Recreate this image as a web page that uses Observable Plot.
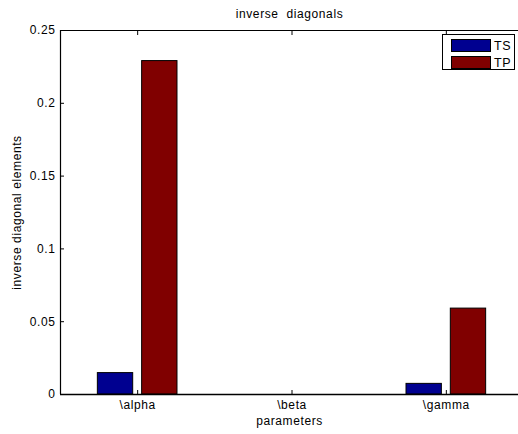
<!DOCTYPE html>
<html>
<head>
<meta charset="utf-8">
<script src="https://cdn.jsdelivr.net/npm/d3@7"></script>
<script src="https://cdn.jsdelivr.net/npm/@observablehq/plot@0.6"></script>
<style>
  html, body { margin: 0; padding: 0; background: white; overflow: hidden; }
  #wrap { position: relative; width: 518px; height: 434px; font-family: "Liberation Sans", Arial, sans-serif; }
  #wrap svg text { letter-spacing: 0.6px; white-space: pre; }
  #legend { position: absolute; left: 442px; top: 34px; width: 73px; height: 36px; border: 1px solid black; background: white; box-sizing: border-box; }
  .row { position: absolute; left: 8px; height: 13px; display: flex; align-items: center; font-size: 12.5px; letter-spacing: 0.6px; }
  .sw { width: 38px; height: 11px; border: 1px solid black; margin-right: 3px; }
</style>
</head>
<body>
<div id="wrap"></div>
<script>
const categories = ["\\alpha", "\\beta", "\\gamma"];
const series = ["TS", "TP"];
const tsValues = [0.0147, 0, 0.0073];
const tpValues = [0.229, 0, 0.059];
const yTicks = [0, 0.05, 0.1, 0.15, 0.2, 0.25];
const yTickLabels = ["0", "0.05", "0.1", "0.15", "0.2", "0.25"];
const colors = ["#000090", "#800000"];
const title = "inverse  diagonals";
const xLabel = "parameters";
const yLabel = "inverse diagonal elements";

const seriesValues = [tsValues, tpValues];
const groupOffset = 0.1435, barWidth = 0.229;
const rows = [];
categories.forEach((c, i) => {
  series.forEach((s, j) => {
    rows.push({category: c, pos: i + 1, series: s, value: seriesValues[j][i], off: (j === 0 ? -1 : 1) * groupOffset});
  });
});
const xTicks = categories.map((c, i) => i + 1);

const chart = Plot.plot({
  width: 518,
  height: 434,
  marginLeft: 60,
  marginTop: 30,
  marginBottom: 40,
  marginRight: 0,
  style: {fontSize: "12px", fontFamily: "Liberation Sans, Arial, sans-serif", color: "black", background: "white", overflow: "visible"},
  x: {type: "linear", domain: [0.5, 3.5], range: [60, 523]},
  y: {type: "linear", domain: [0, 0.25], range: [394, 30]},
  color: {domain: series, range: colors},
  marks: [
    Plot.rectY(rows.filter(d => d.value > 0), {
      x1: d => d.pos + d.off - barWidth / 2,
      x2: d => d.pos + d.off + barWidth / 2,
      y: "value",
      fill: "series",
      stroke: "black",
      strokeWidth: 1
    }),
    Plot.ruleX([0.5], {stroke: "black", strokeWidth: 1.2}),
    Plot.ruleY([0], {stroke: "black", strokeWidth: 1.5}),
    Plot.ruleY([0.25], {stroke: "black", strokeWidth: 1.2}),
    Plot.axisY({ticks: yTicks, tickSize: 0, tickPadding: 5, tickFormat: d => yTickLabels[yTicks.indexOf(d)], label: null}),
    Plot.axisY({ticks: yTicks, tickSize: -4, tickFormat: () => "", label: null}),
    Plot.axisX({ticks: xTicks, tickSize: 0, tickPadding: 6, tickFormat: d => categories[d - 1], label: null}),
    Plot.axisX({ticks: xTicks, tickSize: -4, tickFormat: () => "", label: null}),
    Plot.axisX({anchor: "top", ticks: xTicks, tickSize: -4, tickFormat: () => "", label: null}),
    Plot.text([title], {frameAnchor: "top", dy: -16, lineAnchor: "middle"}),
    Plot.text([xLabel], {frameAnchor: "bottom", dy: 27, lineAnchor: "middle"}),
    Plot.text([yLabel], {frameAnchor: "left", dx: -43, rotate: -90, textAnchor: "middle", lineAnchor: "middle"})
  ]
});
const wrap = document.getElementById("wrap");
wrap.appendChild(chart);

const legend = document.createElement("div");
legend.id = "legend";
series.forEach((s, j) => {
  const row = document.createElement("div");
  row.className = "row";
  row.style.top = (4 + j * 17) + "px";
  const sw = document.createElement("div");
  sw.className = "sw";
  sw.style.background = colors[j];
  const lab = document.createElement("span");
  lab.textContent = s;
  row.appendChild(sw);
  row.appendChild(lab);
  legend.appendChild(row);
});
wrap.appendChild(legend);
</script>
</body>
</html>
